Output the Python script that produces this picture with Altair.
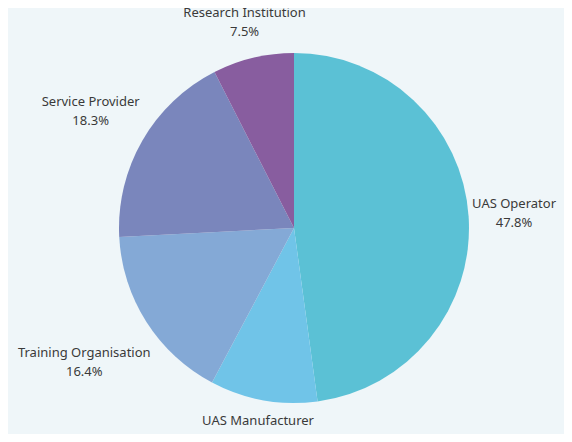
import math
import altair as alt
import pandas as pd

categories = ["UAS Operator", "UAS Manufacturer", "Training Organisation", "Service Provider", "Research Institution"]
values = [47.8, 9.9, 16.4, 18.3, 7.5]
colors = ["#5bc1d5", "#70c4e8", "#84a9d6", "#7a86bc", "#885d9f"]

R = 175
total = sum(values)
rows = []
cum = 0.0
for i, (c, v) in enumerate(zip(categories, values)):
    mid = (cum + v / 2) / total * 2 * math.pi
    cum += v
    w = len(c) * 6.9
    h = 36
    lr = R + 3 + abs(math.sin(mid)) * w / 2 + abs(math.cos(mid)) * h / 2
    rows.append({"cat": c, "val": v, "idx": i, "label": f"{c}\n{v}%", "lr": lr, "mid": mid})
df = pd.DataFrame(rows)

pie = alt.Chart(df).mark_arc(outerRadius=R, stroke=None).encode(
    theta=alt.Theta("val:Q", stack=True),
    order=alt.Order("idx:Q"),
    color=alt.Color("cat:N", scale=alt.Scale(domain=categories, range=colors), legend=None),
)

text = alt.Chart(df).mark_text(
    font="Noto Sans", fontSize=13, color="#3a3a3a", lineBreak="\n", lineHeight=19,
    align="center", baseline="middle", dy=-9
).encode(
    theta=alt.Theta("mid:Q", scale=None),
    radius=alt.Radius("lr:Q", scale=None),
    text="label:N",
)

chart = (pie + text).properties(
    width=540, height=410,
    padding={"left": 16, "right": 0, "top": 15, "bottom": 1},
    autosize=alt.AutoSizeParams(type="none"),
    background="#eff6f9",
).configure_view(stroke=None)

chart.save("out.html", embed_options={"renderer": "svg", "actions": False})
